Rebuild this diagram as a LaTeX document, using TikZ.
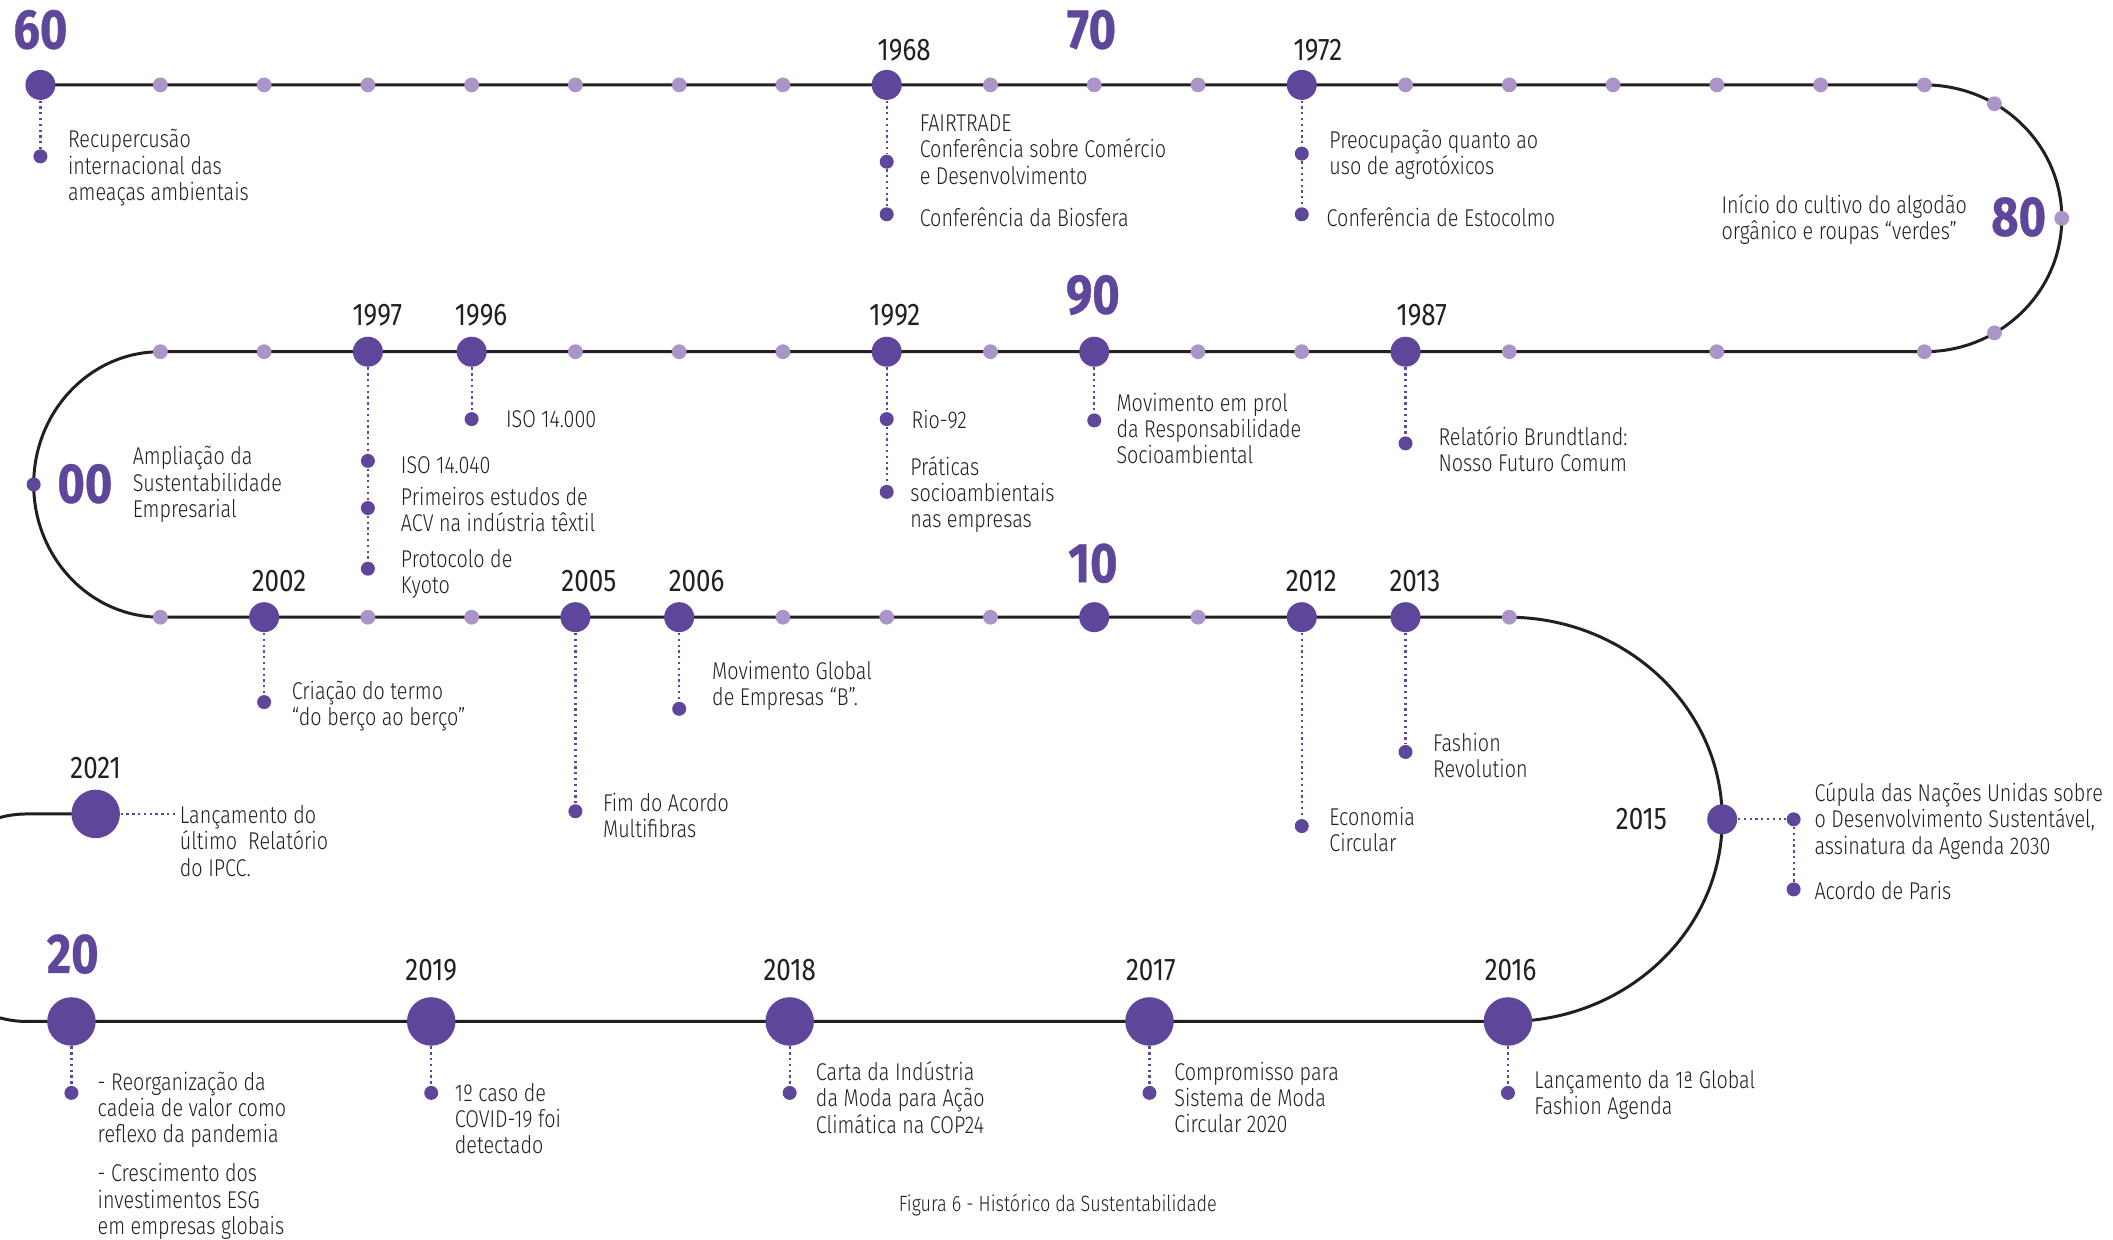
\documentclass[tikz,border=0pt]{standalone}
\usepackage{fontspec}
\IfFontExistsTF{Fira Sans Light}
  {\setmainfont{Fira Sans Light}[FakeStretch = 0.815]}
  {\setmainfont{Fira Sans}[FakeStretch = 0.79]}
\newfontfamily\anofont{Fira Sans}[FakeStretch = 0.83]
\newfontfamily\decadefont{Fira Sans}[FakeStretch = 0.84,
  BoldFeatures = {FakeBold = 0.6}]

\definecolor{roxo}{RGB}{94, 71, 155}
\definecolor{lilas}{RGB}{170, 148, 200}
\definecolor{tinta}{RGB}{35, 31, 32}

\tikzset{
  track/.style = {line width = 0.85pt, tinta},
  marco/.style = {circle, fill = roxo, inner sep = 0pt, minimum size = 3mm},
  marcog/.style = {marco, minimum size = 4.85mm},
  pontinho/.style = {circle, fill = lilas, inner sep = 0pt, minimum size = 1.48mm},
  subponto/.style = {circle, fill = roxo, inner sep = 0pt, minimum size = 1.4mm},
  ligacao/.style = {roxo, line width = 0.65pt, dash pattern = on 0.65pt off 1pt},
  ano/.style = {font = \anofont\fontsize{8.9}{10}\selectfont, text = tinta, inner sep = 0pt},
  decada/.style = {font = \decadefont\bfseries\fontsize{15.9}{16}\selectfont,
    text = roxo, inner sep = 0pt},
  evento/.style = {anchor = west, align = left, text = tinta, inner sep = 0pt,
    font = \fontsize{6.9}{7.5}\selectfont},
  legenda/.style = {font = \fontsize{6.3}{7}\selectfont, text = tinta, inner sep = 0pt}
}

\begin{document}
\begin{tikzpicture}[x = 0.013476cm, y = -0.013476cm]
  \useasboundingbox (0, 0) rectangle (1568, 920);
  \clip (0, 0) rectangle (1568, 920);
  \fill[white] (0, 0) rectangle (1568, 920);

  \draw[track] (30, 63) -- (1428, 63)
    arc[start angle = -90, end angle = 90, x radius = 102, y radius = 99]
    -- (119, 261)
    arc[start angle = -90, end angle = -270, x radius = 94, y radius = 98.5]
    -- (1119, 458)
    arc[start angle = -90, end angle = 90, x radius = 159, y radius = 150]
    -- (20, 758)
    arc[start angle = 90, end angle = 270, radius = 77]
    -- (71, 604);

  \foreach \k in {0, ..., 6, 8, 9, 10, 12, 13, ..., 17}
    \node[pontinho] (p1-\k) at ({119 + 77 * \k}, 63) {};
  \foreach \k in {0, 1, 4, 5, 6, 8, 10, 11, 13, ..., 17}
    \node[pontinho] (p2-\k) at ({119 + 77 * \k}, 261) {};
  \foreach \k in {0, 2, 3, 6, 7, 8, 10, 13}
    \node[pontinho] (p3-\k) at ({119 + 77 * \k}, 458) {};
  \node[pontinho] (p80a) at (1480, 77) {};
  \node[pontinho] (p80b) at (1530, 162) {};
  \node[pontinho] (p80c) at (1480, 247) {};
  \node[subponto] (s00) at (25, 359.5) {};

  \node[marco] (d60) at (30, 63) {};
  \node[marco] (d1968) at (658, 63) {};
  \node[marco] (d1972) at (966, 63) {};
  \node[marco] (d1997) at (273, 261) {};
  \node[marco] (d1996) at (350, 261) {};
  \node[marco] (d1992) at (658, 261) {};
  \node[marco] (d90) at (812, 261) {};
  \node[marco] (d1987) at (1043, 261) {};
  \node[marco] (d2002) at (196, 458) {};
  \node[marco] (d2005) at (427, 458) {};
  \node[marco] (d2006) at (504, 458) {};
  \node[marco] (d10) at (812, 458) {};
  \node[marco] (d2012) at (966, 458) {};
  \node[marco] (d2013) at (1043, 458) {};
  \node[marco] (d2015) at (1278, 608) {};
  \node[marcog] (d2016) at (1119, 758) {};
  \node[marcog] (d2017) at (853, 758) {};
  \node[marcog] (d2018) at (586, 758) {};
  \node[marcog] (d2019) at (320, 758) {};
  \node[marcog] (d20) at (53, 758) {};
  \node[marcog] (d2021) at (71, 604) {};

  \node[subponto] (s60) at (30, 116) {};
  \node[subponto] (s1968a) at (658, 120) {};
  \node[subponto] (s1968b) at (658, 159) {};
  \node[subponto] (s1972a) at (966, 114) {};
  \node[subponto] (s1972b) at (966, 159) {};
  \node[subponto] (s1997a) at (273, 342) {};
  \node[subponto] (s1997b) at (273, 377) {};
  \node[subponto] (s1997c) at (273, 422) {};
  \node[subponto] (s1996) at (350, 311) {};
  \node[subponto] (s1992a) at (658, 311) {};
  \node[subponto] (s1992b) at (658, 365) {};
  \node[subponto] (s90) at (812, 312) {};
  \node[subponto] (s1987) at (1043, 329) {};
  \node[subponto] (s2002) at (196, 521) {};
  \node[subponto] (s2005) at (427, 602) {};
  \node[subponto] (s2006) at (504, 526) {};
  \node[subponto] (s2012) at (966, 613) {};
  \node[subponto] (s2013) at (1043, 558) {};
  \node[subponto] (s2015a) at (1331, 608) {};
  \node[subponto] (s2015b) at (1331, 660) {};
  \node[subponto] (s2016) at (1119, 811) {};
  \node[subponto] (s2017) at (853, 811) {};
  \node[subponto] (s2018) at (586, 811) {};
  \node[subponto] (s2019) at (320, 811) {};
  \node[subponto] (s20) at (53, 811) {};
  \coordinate (e2021) at (132, 604);

  \draw[ligacao] (d60) -- (s60);
  \draw[ligacao] (d1968) -- (s1968a) -- (s1968b);
  \draw[ligacao] (d1972) -- (s1972a) -- (s1972b);
  \draw[ligacao] (d1997) -- (s1997a) -- (s1997b) -- (s1997c);
  \draw[ligacao] (d1996) -- (s1996);
  \draw[ligacao] (d1992) -- (s1992a) -- (s1992b);
  \draw[ligacao] (d90) -- (s90);
  \draw[ligacao] (d1987) -- (s1987);
  \draw[ligacao] (d2002) -- (s2002);
  \draw[ligacao] (d2005) -- (s2005);
  \draw[ligacao] (d2006) -- (s2006);
  \draw[ligacao] (d2012) -- (s2012);
  \draw[ligacao] (d2013) -- (s2013);
  \draw[ligacao] (d2015) -- (s2015a) -- (s2015b);
  \draw[ligacao] (d2016) -- (s2016);
  \draw[ligacao] (d2017) -- (s2017);
  \draw[ligacao] (d2018) -- (s2018);
  \draw[ligacao] (d2019) -- (s2019);
  \draw[ligacao] (d20) -- (s20);
  \draw[ligacao] (d2021) -- (e2021);

  \node[decada] (l60) at (30, 22) {60};
  \node[decada] (l70) at (810, 22) {70};
  \node[decada] (l80) at (1498, 161) {80};
  \node[decada] (l90) at (811, 219) {90};
  \node[decada] (l00) at (63, 359) {00};
  \node[decada] (l10) at (811, 418) {10};
  \node[decada] (l20) at (54, 708) {20};

  \node[ano] (a1968) at (671, 37) {1968};
  \node[ano] (a1972) at (978, 37) {1972};
  \node[ano] (a1997) at (280, 234) {1997};
  \node[ano] (a1996) at (357, 234) {1996};
  \node[ano] (a1992) at (664, 234) {1992};
  \node[ano] (a1987) at (1055, 234) {1987};
  \node[ano] (a2002) at (207, 431) {2002};
  \node[ano] (a2005) at (437, 431) {2005};
  \node[ano] (a2006) at (517, 431) {2006};
  \node[ano] (a2012) at (973, 431) {2012};
  \node[ano] (a2013) at (1050, 431) {2013};
  \node[ano] (a2015) at (1218, 608) {2015};
  \node[ano] (a2016) at (1121, 720) {2016};
  \node[ano] (a2017) at (854, 720) {2017};
  \node[ano] (a2018) at (586, 720) {2018};
  \node[ano] (a2019) at (320, 720) {2019};
  \node[ano] (a2021) at (71, 570) {2021};

  \node[evento] (t60) at (50, 124.5)
    {Recupercusão\\internacional das\\ameaças ambientais};
  \node[evento] (t1968a) at (682, 111)
    {FAIRTRADE\\Conferência sobre Comércio\\e Desenvolvimento};
  \node[evento] (t1968b) at (682, 161) {Conferência da Biosfera};
  \node[evento] (t1972a) at (986, 115)
    {Preocupação quanto ao\\uso de agrotóxicos};
  \node[evento] (t1972b) at (984, 161) {Conferência de Estocolmo};
  \node[evento] (t80) at (1277, 163)
    {Início do cultivo do algodão\\orgânico e roupas “verdes”};
  \node[evento] (t1997a) at (297, 345) {ISO 14.040};
  \node[evento] (t1997b) at (297, 378)
    {Primeiros estudos de\\ACV na indústria têxtil};
  \node[evento] (t1997c) at (297, 426) {Protocolo de\\Kyoto};
  \node[evento] (t1996) at (375, 311) {ISO 14.000};
  \node[evento] (t1992a) at (676, 311) {Rio-92};
  \node[evento] (t1992b) at (675, 367)
    {Práticas\\socioambientais\\nas empresas};
  \node[evento] (t90) at (828, 318)
    {Movimento em prol\\da Responsabilidade\\Socioambiental};
  \node[evento] (t1987) at (1067, 333.5)
    {Relatório Brundtland:\\Nosso Futuro Comum};
  \node[evento] (t00) at (98, 359.5)
    {Ampliação da\\Sustentabilidade\\Empresarial};
  \node[evento] (t2002) at (216, 524)
    {Criação do termo\\“do berço ao berço”};
  \node[evento] (t2005) at (447, 605) {Fim do Acordo\\Multifibras};
  \node[evento] (t2006) at (528, 509)
    {Movimento Global\\de Empresas “B”.};
  \node[evento] (t2012) at (986, 615.5) {Economia\\Circular};
  \node[evento] (t2013) at (1063, 560.5) {Fashion\\Revolution};
  \node[evento] (t2015a) at (1346, 609)
    {Cúpula das Nações Unidas sobre\\o Desenvolvimento Sustentável,\\assinatura da Agenda 2030};
  \node[evento] (t2015b) at (1346, 661) {Acordo de Paris};
  \node[evento] (t2016) at (1138, 812.5)
    {Lançamento da 1ª Global\\Fashion Agenda};
  \node[evento] (t2017) at (871, 814.5)
    {Compromisso para\\Sistema de Moda\\Circular 2020};
  \node[evento] (t2018) at (605, 814.5)
    {Carta da Indústria\\da Moda para Ação\\Climática na COP24};
  \node[evento] (t2019) at (337, 830)
    {1º caso de\\COVID-19 foi\\detectado};
  \node[evento] (t20a) at (72, 823.5)
    {- Reorganização da\\cadeia de valor como\\reflexo da pandemia};
  \node[evento] (t20b) at (72, 891.5)
    {- Crescimento dos\\investimentos ESG\\em empresas globais};
  \node[evento] (t2021) at (133, 624)
    {Lançamento do\\último~ Relatório\\do IPCC.};

  \node[legenda] (fig) at (785, 894)
    {Figura 6 - Histórico da Sustentabilidade};
\end{tikzpicture}
\end{document}
